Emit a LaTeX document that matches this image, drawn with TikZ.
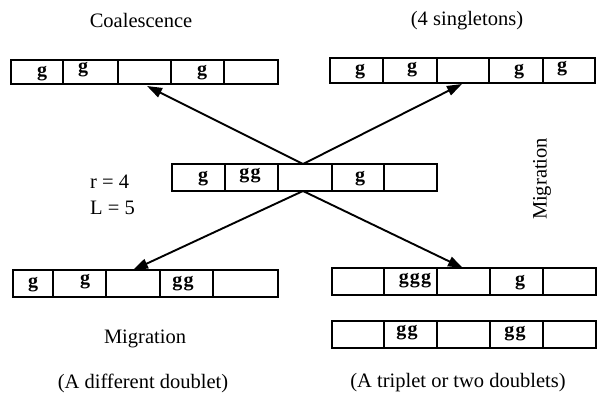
\documentclass[tikz,border=0pt]{standalone}
\usepackage{fontspec}
\setmainfont{Liberation Serif}
\usetikzlibrary{arrows.meta}
\tikzset{
  cellrow/.style={draw, line width=2pt, inner sep=0pt, outer sep=0pt, fill=white, anchor=north west},
  divider/.style={line width=1.6pt},
  gene/.style={font=\fontsize{20}{20}\selectfont\bfseries, inner sep=0pt},
  caption/.style={font=\fontsize{20.5}{24}\selectfont, inner sep=0pt},
  link/.style={line width=1.9pt, -{Triangle[length=15pt,width=10pt]}}
}
\newcommand\gsp{\kern1.2pt}
\begin{document}
\begin{tikzpicture}[x=1pt, y=-1pt]
  \useasboundingbox (0,0) rectangle (597,398);

  % headings and side labels
  \node[caption] (coal) at (141,20) {Coalescence};
  \node[caption] (single) at (467,21) {(4 singletons)};
  \node[caption, rotate=90] (migR) at (542,179) {Migration};
  \node[caption, anchor=west] (rval) at (90,182) {r = 4};
  \node[caption, anchor=west] (lval) at (90,208) {L = 5};
  \node[caption] (migL) at (145,339) {Migration};
  \node[caption] (diff) at (143,383) {(A different doublet)};
  \node[caption] (trip) at (458,383) {(A triplet or two doublets)};

  % arrows out of the central configuration
  \coordinate (up) at (303,164);
  \coordinate (down) at (303,191);
  \coordinate (tipTL) at (147,86);
  \coordinate (tipTR) at (462,84);
  \coordinate (tipBL) at (133,270);
  \coordinate (tipBR) at (463,268);
  \draw[link] (up) -- (tipTL);
  \draw[link] (up) -- (tipTR);
  \draw[link] (down) -- (tipBL);
  \draw[link] (down) -- (tipBR);

  % top left: coalescence
  \node[cellrow, minimum width=267pt, minimum height=24pt] (rowTL) at (11,60) {};
  \foreach \x in {63,118,171,224}
    \draw[divider] (\x,0 |- rowTL.north) -- (\x,0 |- rowTL.south);
  \node[gene] (gTL1) at (42,74) {g};
  \node[gene] (gTL2) at (83,70) {g};
  \node[gene] (gTL3) at (202,73) {g};

  % top right: four singletons
  \node[cellrow, minimum width=265pt, minimum height=25pt] (rowTR) at (330,58) {};
  \foreach \x in {383,437,489,543}
    \draw[divider] (\x,0 |- rowTR.north) -- (\x,0 |- rowTR.south);
  \node[gene] (gTR1) at (360,72) {g};
  \node[gene] (gTR2) at (412,70) {g};
  \node[gene] (gTR3) at (519,72) {g};
  \node[gene] (gTR4) at (562,69) {g};

  % centre: current state
  \node[cellrow, minimum width=265pt, minimum height=27pt] (rowM) at (172,164) {};
  \foreach \x in {225,278,332,384}
    \draw[divider] (\x,0 |- rowM.north) -- (\x,0 |- rowM.south);
  \node[gene] (gM1) at (203,179) {g};
  \node[gene] (gM2) at (250,176) {g\gsp g};
  \node[gene] (gM3) at (360,179) {g};

  % bottom left: migration to another doublet
  \node[cellrow, minimum width=265pt, minimum height=27pt] (rowBL) at (13,270) {};
  \foreach \x in {53,106,160,213}
    \draw[divider] (\x,0 |- rowBL.north) -- (\x,0 |- rowBL.south);
  \node[gene] (gBL1) at (33,285) {g};
  \node[gene] (gBL2) at (85,282) {g};
  \node[gene] (gBL3) at (183,284) {g\gsp g};

  % bottom right: triplet
  \node[cellrow, minimum width=264pt, minimum height=27pt] (rowBR) at (332,268) {};
  \foreach \x in {384,437,490,543}
    \draw[divider] (\x,0 |- rowBR.north) -- (\x,0 |- rowBR.south);
  \node[gene] (gBR1) at (415,281) {g\gsp g\gsp g};
  \node[gene] (gBR2) at (520,283) {g};

  % bottom right: two doublets
  \node[cellrow, minimum width=264pt, minimum height=27pt] (rowBB) at (332,321) {};
  \foreach \x in {384,437,490,543}
    \draw[divider] (\x,0 |- rowBB.north) -- (\x,0 |- rowBB.south);
  \node[gene] (gBB1) at (407,333) {g\gsp g};
  \node[gene] (gBB2) at (515,334) {g\gsp g};
\end{tikzpicture}
\end{document}
